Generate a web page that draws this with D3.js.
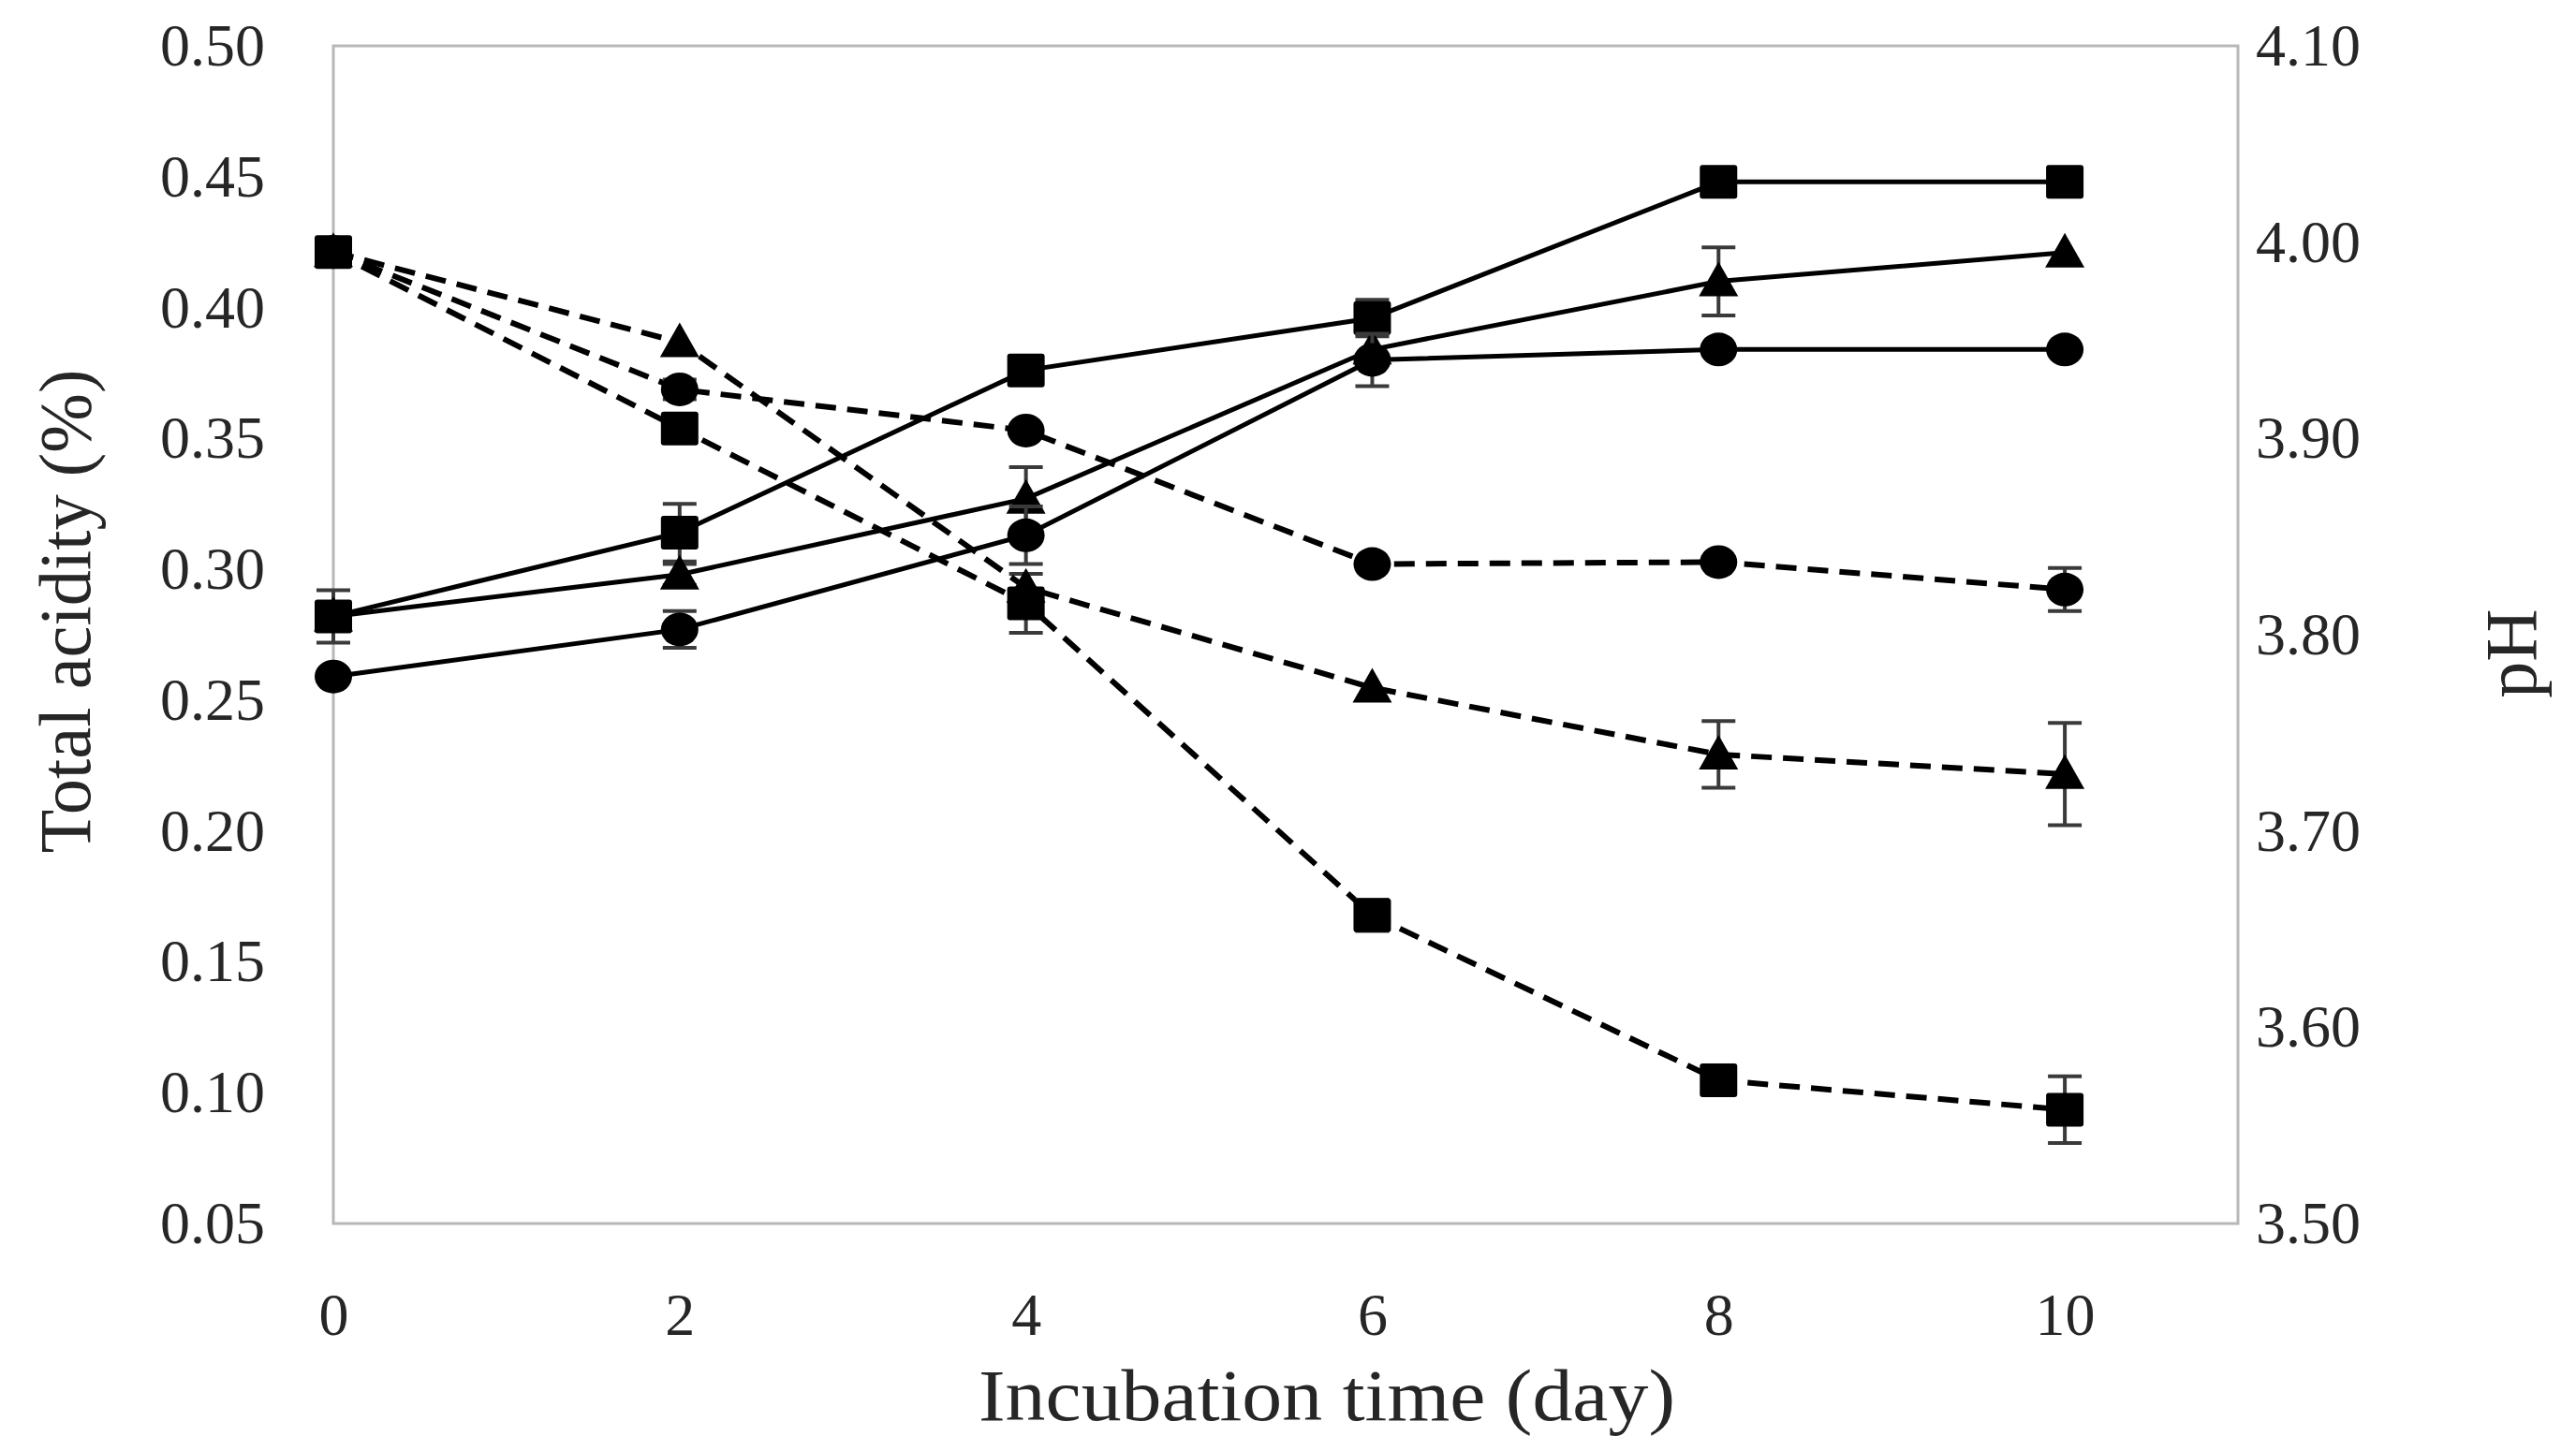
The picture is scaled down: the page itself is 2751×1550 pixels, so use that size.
<!DOCTYPE html>
<html>
<head>
<meta charset="utf-8">
<script src="https://cdn.jsdelivr.net/npm/d3@7"></script>
<style>
  body { margin: 0; background: #fff; }
  svg { display: block; }
</style>
</head>
<body>
<div id="graphic"></div>
<script>
// incubation days
var days = [0, 2, 4, 6, 8, 10];

// total acidity (%) - solid lines, left axis
var acidSquare = [0.282, 0.314, 0.376, 0.396, 0.448, 0.448];
var acidSquareErr = [0.010, 0.011, 0, 0.007, 0, 0];
var acidTriangle = [0.282, 0.298, 0.327, 0.384, 0.410, 0.421];
var acidTriangleErr = [0, 0.004, 0.012, 0, 0.013, 0];
var acidCircle = [0.259, 0.277, 0.313, 0.380, 0.384, 0.384];
var acidCircleErr = [0, 0.007, 0.011, 0.010, 0, 0];

// pH - dashed lines, right axis
var phSquare = [3.995, 3.905, 3.816, 3.657, 3.573, 3.558];
var phSquareErr = [0, 0.006, 0.015, 0.008, 0, 0.017];
var phTriangle = [3.995, 3.949, 3.824, 3.773, 3.739, 3.729];
var phTriangleErr = [0, 0, 0, 0, 0.017, 0.026];
var phCircle = [3.995, 3.925, 3.904, 3.836, 3.837, 3.823];
var phCircleErr = [0, 0.005, 0, 0, 0, 0.011];

// tick values
var xTicks = [0, 2, 4, 6, 8, 10];
var acidTicks = [0.05, 0.10, 0.15, 0.20, 0.25, 0.30, 0.35, 0.40, 0.45, 0.50];
var phTicks = [3.50, 3.60, 3.70, 3.80, 3.90, 4.00, 4.10];

var W = 2751, H = 1550;
var margin = {top: 49, left: 356, right: 361, bottom: 243};
var font = "'Liberation Serif', 'Times New Roman', serif";
var textColor = "#262626";

var svg = d3.select("#graphic").append("svg")
    .attr("width", W)
    .attr("height", H);

var x = d3.scaleLinear().domain([0, 11]).range([margin.left, W - margin.right]);
var yAcid = d3.scaleLinear().domain([0.05, 0.50]).range([H - margin.bottom, margin.top]);
var yPh = d3.scaleLinear().domain([3.50, 4.10]).range([H - margin.bottom, margin.top]);

//plot frame
svg.append("rect")
    .attr("x", x(0))
    .attr("y", yAcid(0.50))
    .attr("width", x(11) - x(0))
    .attr("height", yAcid(0.05) - yAcid(0.50))
    .attr("fill", "none")
    .attr("stroke", "#b8b8b8")
    .attr("stroke-width", 3);

//axes
function styleAxis(g) {
    g.select(".domain").remove();
    g.selectAll("text")
        .attr("font-family", font)
        .attr("font-size", 64)
        .attr("fill", textColor);
}

svg.append("g")
    .attr("transform", "translate(" + x(0) + ",0)")
    .call(d3.axisLeft(yAcid).tickValues(acidTicks).tickSize(0).tickPadding(73).tickFormat(d3.format(".2f")))
    .call(styleAxis);

svg.append("g")
    .attr("transform", "translate(" + x(11) + ",0)")
    .call(d3.axisRight(yPh).tickValues(phTicks).tickSize(0).tickPadding(19).tickFormat(d3.format(".2f")))
    .call(styleAxis);

svg.append("g")
    .attr("transform", "translate(0," + yAcid(0.05) + ")")
    .call(d3.axisBottom(x).tickValues(xTicks).tickSize(0).tickPadding(74).tickFormat(d3.format("d")))
    .call(styleAxis);

//axis titles
svg.append("text")
    .attr("x", 1417)
    .attr("y", 1517)
    .attr("text-anchor", "middle")
    .attr("font-family", font)
    .attr("font-size", 78)
    .attr("fill", textColor)
    .attr("textLength", 744)
    .attr("lengthAdjust", "spacingAndGlyphs")
    .text("Incubation time (day)");

svg.append("text")
    .attr("transform", "translate(96,653) rotate(-90)")
    .attr("text-anchor", "middle")
    .attr("font-family", font)
    .attr("font-size", 78)
    .attr("fill", textColor)
    .attr("textLength", 517)
    .attr("lengthAdjust", "spacingAndGlyphs")
    .text("Total acidity (%)");

svg.append("text")
    .attr("transform", "translate(2708,698) rotate(-90)")
    .attr("text-anchor", "middle")
    .attr("font-family", font)
    .attr("font-size", 78)
    .attr("fill", textColor)
    .text("pH");

//series
var series = [
    {vals: acidSquare, err: acidSquareErr, y: yAcid, shape: "square", dash: null},
    {vals: acidTriangle, err: acidTriangleErr, y: yAcid, shape: "triangle", dash: null},
    {vals: acidCircle, err: acidCircleErr, y: yAcid, shape: "circle", dash: null},
    {vals: phSquare, err: phSquareErr, y: yPh, shape: "square", dash: "22,12"},
    {vals: phTriangle, err: phTriangleErr, y: yPh, shape: "triangle", dash: "22,12"},
    {vals: phCircle, err: phCircleErr, y: yPh, shape: "circle", dash: "22,12"}
];

var capW = 18;

series.forEach(function(s) {
    var pts = days.map(function(d, i) { return {x: d, v: s.vals[i], e: s.err[i]}; });
    var line = d3.line()
        .x(function(d) { return x(d.x); })
        .y(function(d) { return s.y(d.v); });

    var g = svg.append("g");

    g.append("path")
        .datum(pts)
        .attr("d", line)
        .attr("fill", "none")
        .attr("stroke", "#000")
        .attr("stroke-width", s.dash ? 6 : 5)
        .attr("stroke-dasharray", s.dash);

    //error bars
    var eb = g.selectAll(".err")
        .data(pts.filter(function(d) { return d.e > 0; }))
        .enter().append("g");
    eb.append("line")
        .attr("x1", function(d) { return x(d.x); })
        .attr("x2", function(d) { return x(d.x); })
        .attr("y1", function(d) { return s.y(d.v - d.e); })
        .attr("y2", function(d) { return s.y(d.v + d.e); });
    eb.append("line")
        .attr("x1", function(d) { return x(d.x) - capW; })
        .attr("x2", function(d) { return x(d.x) + capW; })
        .attr("y1", function(d) { return s.y(d.v + d.e); })
        .attr("y2", function(d) { return s.y(d.v + d.e); });
    eb.append("line")
        .attr("x1", function(d) { return x(d.x) - capW; })
        .attr("x2", function(d) { return x(d.x) + capW; })
        .attr("y1", function(d) { return s.y(d.v - d.e); })
        .attr("y2", function(d) { return s.y(d.v - d.e); });
    eb.selectAll("line")
        .attr("stroke", "#3a3a3a")
        .attr("stroke-width", 4);

    //markers
    var m = g.selectAll(".mk")
        .data(pts)
        .enter();
    if (s.shape === "square") {
        m.append("rect")
            .attr("x", function(d) { return x(d.x) - 20; })
            .attr("y", function(d) { return s.y(d.v) - 18; })
            .attr("width", 40)
            .attr("height", 36)
            .attr("rx", 3)
            .attr("fill", "#000");
    } else if (s.shape === "circle") {
        m.append("ellipse")
            .attr("cx", function(d) { return x(d.x); })
            .attr("cy", function(d) { return s.y(d.v); })
            .attr("rx", 20)
            .attr("ry", 18)
            .attr("fill", "#000");
    } else {
        m.append("path")
            .attr("d", function(d) {
                var cx = x(d.x), cy = s.y(d.v);
                return "M" + cx + "," + (cy - 21) + "L" + (cx + 21) + "," + (cy + 16) + "L" + (cx - 21) + "," + (cy + 16) + "Z";
            })
            .attr("fill", "#000");
    }
});
</script>
</body>
</html>
